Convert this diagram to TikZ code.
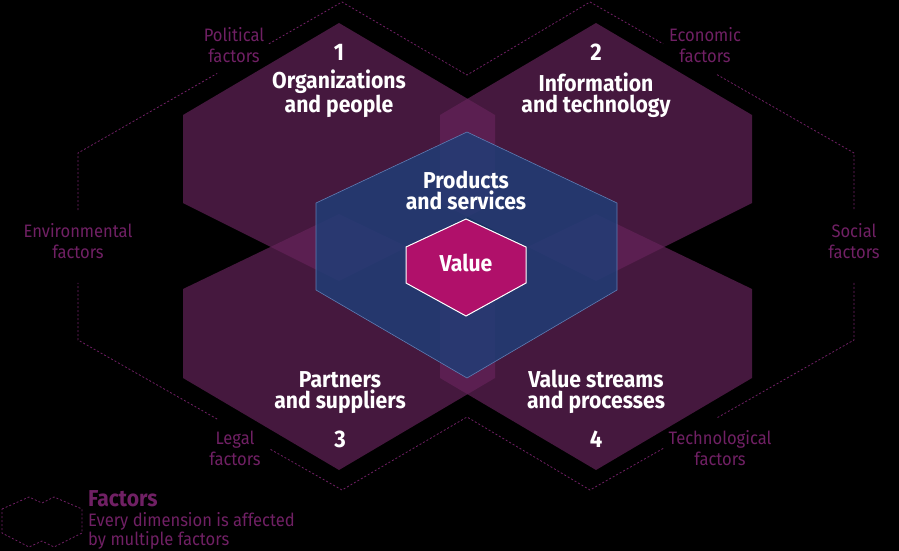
\documentclass[tikz,border=0pt]{standalone}
\usepackage{fontspec}
\setmainfont{Fira Sans}[FakeStretch=0.92]
\usetikzlibrary{calc}
\definecolor{hexfill}{RGB}{101,35,90}
\definecolor{bluefill}{RGB}{30,62,120}
\definecolor{blueline}{RGB}{95,125,180}
\definecolor{valuefill}{RGB}{176,16,106}
\definecolor{factorc}{RGB}{112,32,100}
\begin{document}
\begin{tikzpicture}[x=1pt,y=-1pt,
  dimhex/.style={fill=hexfill, fill opacity=0.69, draw=none},
  prodhex/.style={fill=bluefill, fill opacity=0.82, draw=blueline, line width=0.6pt},
  valhex/.style={fill=valuefill, draw=white, line width=1pt},
  dimlabel/.style={text=white, font=\fontsize{23}{21}\selectfont\bfseries, align=center, inner sep=0pt, anchor=base},
  numlabel/.style={text=white, font=\fontsize{24}{21}\selectfont\bfseries, inner sep=0pt, anchor=base},
  factlabel/.style={text=factorc, font=\fontsize{18}{21}\selectfont, align=center, inner sep=0pt, anchor=base},
  factline/.style={draw=factorc, line width=0.8pt, dash pattern=on 2pt off 2pt},
]
\fill[black] (0,0) rectangle (899,551);
\useasboundingbox (0,0) rectangle (899,551);

% four dimension hexagons
\fill[dimhex] (339,23) -- (495,115) -- (495,203) -- (339,281) -- (183,203) -- (183,115) -- cycle;
\fill[dimhex] (596,23) -- (752,115) -- (752,203) -- (596,281) -- (440,203) -- (440,115) -- cycle;
\fill[dimhex] (339,214) -- (495,289) -- (495,378) -- (339,470) -- (183,378) -- (183,289) -- cycle;
\fill[dimhex] (596,214) -- (752,289) -- (752,378) -- (596,470) -- (440,378) -- (440,289) -- cycle;

% products and services
\path[prodhex] (467,132) -- (617,203) -- (617,290) -- (467,378) -- (316,290) -- (316,203) -- cycle;

% value
\path[valhex] (466,219) -- (526,247) -- (526,283) -- (466,316) -- (406,283) -- (406,247) -- cycle;

% dimension labels (base anchor = baseline of the last line)
\node[numlabel] (n1) at (339,61) {1};
\node[dimlabel] (d1) at (339,112) {Organizations\\and people};
\node[numlabel] (n2) at (596,61) {2};
\node[dimlabel] (d2) at (596,112) {Information\\and technology};
\node[dimlabel] (ps) at (466,209) {Products\\and services};
\node[dimlabel] (val) at (466,271) {Value};
\node[dimlabel] (d3) at (340,408) {Partners\\and suppliers};
\node[numlabel] (n3) at (340,447) {3};
\node[dimlabel] (d4) at (596,408) {Value streams\\and processes};
\node[numlabel] (n4) at (596,447) {4};

% factor labels
\node[factlabel] (pol) at (234,63) {Political\\factors};
\node[factlabel] (eco) at (705,63) {Economic\\factors};
\node[factlabel] (env) at (78,258) {Environmental\\factors};
\node[factlabel] (soc) at (854,258) {Social\\factors};
\node[factlabel] (leg) at (235,465) {Legal\\factors};
\node[factlabel] (tec) at (720,465) {Technological\\factors};

% factors outline
\coordinate (A) at (78,153);
\coordinate (B) at (342,2);
\coordinate (C) at (467,75);
\coordinate (D) at (590,2);
\coordinate (E) at (854,153);
\coordinate (F) at (854,340);
\coordinate (G) at (590,490);
\coordinate (H) at (467,417);
\coordinate (I) at (342,490);
\coordinate (J) at (78,340);
\draw[factline] ($(J)!0.695!(A)$) -- (A) -- ($(A)!0.527!(B)$);
\draw[factline] ($(A)!0.723!(B)$) -- (B) -- (C) -- (D) -- ($(D)!0.277!(E)$);
\draw[factline] ($(D)!0.481!(E)$) -- (E) -- ($(E)!0.305!(F)$);
\draw[factline] ($(E)!0.695!(F)$) -- (F) -- ($(F)!0.519!(G)$);
\draw[factline] ($(F)!0.723!(G)$) -- (G) -- (H) -- (I) -- ($(I)!0.277!(J)$);
\draw[factline] ($(I)!0.473!(J)$) -- (J) -- ($(J)!0.305!(A)$);

% legend
\draw[factline] (2,509) -- (29,497) -- (42,503) -- (54,497) -- (82,509) -- (82,533) -- (54,547) -- (42,541) -- (29,547) -- (2,533) -- cycle;
\node[text=factorc, font=\fontsize{23}{21}\selectfont\bfseries, inner sep=0pt, anchor=base west] (legt) at (88,506) {Factors};
\node[text=factorc, font=\fontsize{18}{19}\selectfont, align=left, inner sep=0pt, anchor=base west] (legd) at (88,545) {Every dimension is affected\\by multiple factors};
\end{tikzpicture}
\end{document}
